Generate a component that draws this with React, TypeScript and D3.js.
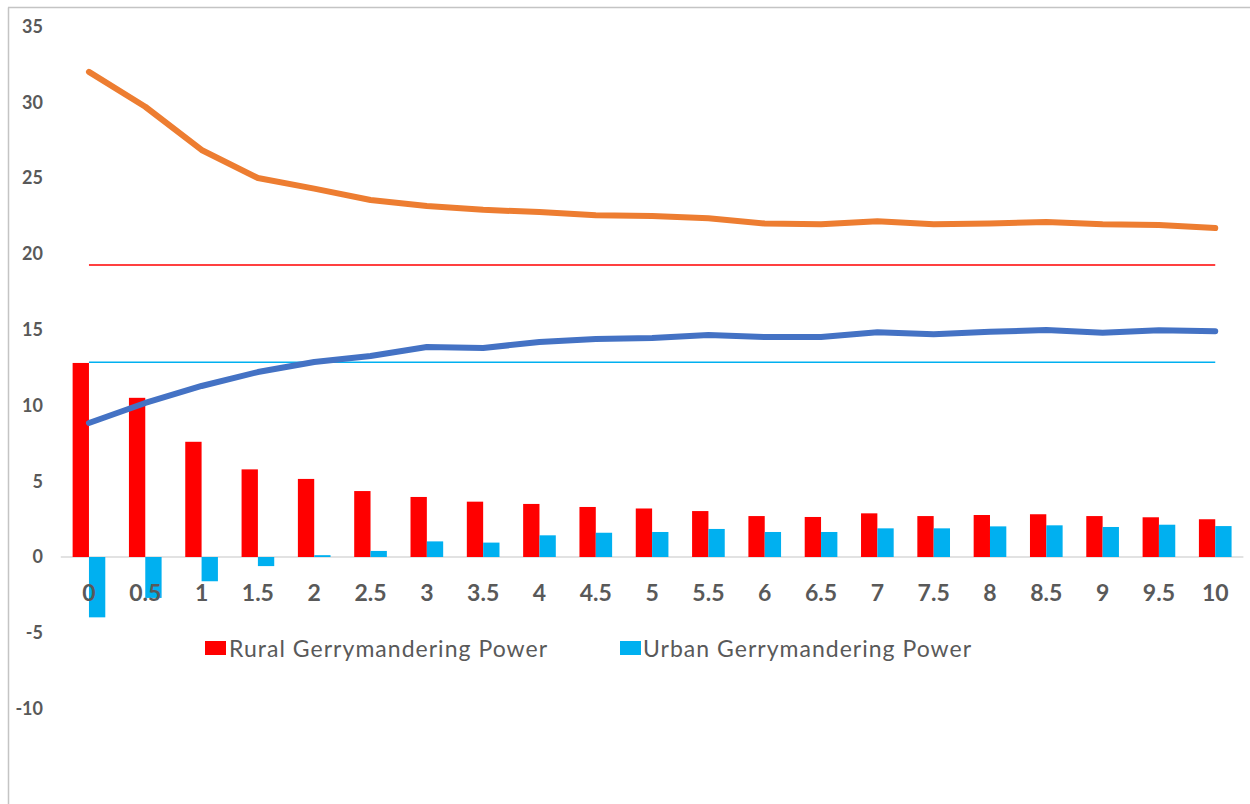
import React from "react";
import * as d3 from "d3";

const categories = ["0","0.5","1","1.5","2","2.5","3","3.5","4","4.5","5","5.5","6","6.5","7","7.5","8","8.5","9","9.5","10"];
const ruralBars = [12.8,10.5,7.6,5.78,5.15,4.35,3.96,3.65,3.5,3.3,3.2,3.03,2.7,2.64,2.88,2.7,2.77,2.82,2.7,2.62,2.49];
const urbanBars = [-3.98,-2.7,-1.6,-0.6,0.12,0.4,1.03,0.95,1.43,1.6,1.65,1.85,1.65,1.65,1.89,1.89,2.02,2.09,1.98,2.13,2.04];
const orangeLine = [32.0,29.7,26.85,25.0,24.3,23.55,23.15,22.9,22.75,22.55,22.5,22.35,22.0,21.95,22.15,21.95,22.0,22.1,21.95,21.9,21.7];
const blueLine = [8.84,10.16,11.28,12.2,12.86,13.26,13.85,13.79,14.18,14.38,14.45,14.64,14.51,14.51,14.82,14.69,14.86,14.97,14.8,14.95,14.89];
const redRef = 19.26;
const cyanRef = 12.84;
const yTicks = [35,30,25,20,15,10,5,0,-5,-10];
const legendItems = ["Rural Gerrymandering Power","Urban Gerrymandering Power"];

export default function App() {
  const W = 1250, H = 804;
  const x = d3.scaleBand<string>().domain(categories).range([60.8, 1243.4]).padding(0);
  const y = d3.scaleLinear().domain([-15, 35]).range([784.4, 26.4]);
  const step = x.bandwidth();
  const groupW = step * 0.58;
  const sub = d3.scaleBand<string>().domain(["r","u"]).range([0, groupW]);
  const cx = (c: string) => (x(c) as number) + step / 2;
  const line = d3.line<number>().x((_, i) => cx(categories[i])).y(d => y(d));
  const font = "Lato, 'Open Sans', sans-serif";
  const txt = "#595959";
  const x0 = cx(categories[0]), x1 = cx(categories[categories.length - 1]);
  return (
    <svg width={W} height={H} style={{ position: "absolute", left: 0, top: 0, background: "#fff" }}>
      <line x1={8} x2={W} y1={7.5} y2={7.5} stroke="#c4c4c4" strokeWidth={1.5} />
      <line x1={8.5} x2={8.5} y1={7.5} y2={H} stroke="#c4c4c4" strokeWidth={1.5} />
      {yTicks.map(t => (
        <text key={t} x={43} y={y(t)} dy="0.36em" textAnchor="end" fontFamily={font} fontWeight="bold" fontSize={18} fill={txt}>{t}</text>
      ))}
      <line x1={60.8} x2={1243.4} y1={y(0)} y2={y(0)} stroke="#d9d9d9" strokeWidth={1.3} />
      {categories.map((c, i) => {
        const gx = cx(c) - groupW / 2;
        const r = ruralBars[i], u = urbanBars[i];
        return (
          <g key={c}>
            <rect x={gx + (sub("r") as number)} y={y(Math.max(0, r))} width={sub.bandwidth()} height={Math.abs(y(r) - y(0))} fill="#FF0000" />
            <rect x={gx + (sub("u") as number)} y={y(Math.max(0, u))} width={sub.bandwidth()} height={Math.abs(y(u) - y(0))} fill="#00B0F0" />
          </g>
        );
      })}
      <line x1={x0} x2={x1} y1={y(redRef)} y2={y(redRef)} stroke="#FF0000" strokeWidth={1.5} />
      <line x1={x0} x2={x1} y1={y(cyanRef)} y2={y(cyanRef)} stroke="#00B0F0" strokeWidth={1.5} />
      <path d={line(orangeLine) || ""} fill="none" stroke="#ED7D31" strokeWidth={6} strokeLinecap="round" strokeLinejoin="round" />
      <path d={line(blueLine) || ""} fill="none" stroke="#4472C4" strokeWidth={6} strokeLinecap="round" strokeLinejoin="round" />
      {categories.map(c => (
        <text key={c} x={cx(c)} y={593} dy="0.36em" textAnchor="middle" fontFamily={font} fontWeight="bold" fontSize={23} fill={txt}>{c}</text>
      ))}
      <rect x={205} y={641} width={21} height={14} fill="#FF0000" />
      <text x={229} y={657} fontFamily={font} fontSize={23} fill={txt} textLength={318} lengthAdjust="spacing">{legendItems[0]}</text>
      <rect x={620} y={641} width={21} height={14} fill="#00B0F0" />
      <text x={643} y={657} fontFamily={font} fontSize={23} fill={txt} textLength={328} lengthAdjust="spacing">{legendItems[1]}</text>
    </svg>
  );
}
